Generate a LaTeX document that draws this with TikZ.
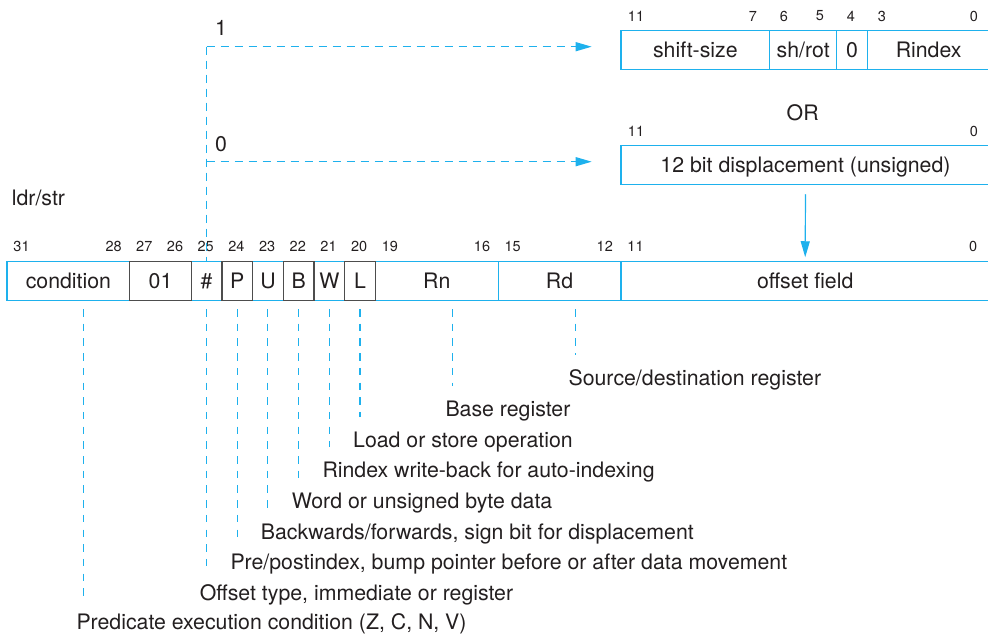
\documentclass[tikz,border=0pt]{standalone}
\usepackage{fontspec}
\setmainfont{TeX Gyre Heros}
\usetikzlibrary{
  arrows.meta,
  positioning
}
\definecolor{ldrCyan}{HTML}{1EB1ED}
\definecolor{ldrDark}{HTML}{4D4D4D}
\definecolor{ldrText}{HTML}{231F20}
\tikzset{
  fld/.style={draw=ldrCyan, line width=1.2pt, minimum height=38.3pt,
    inner sep=0pt, text height=15pt, text depth=0pt, text=ldrText,
    font=\fontsize{21.3}{25}\selectfont},
  darkfld/.style={fld, draw=ldrDark},
  bitno/.style={text=ldrText, inner sep=0pt, font=\fontsize{14.5}{17}\selectfont},
  lbl/.style={text=ldrText, inner sep=0pt, anchor=base west,
    font=\fontsize{21.3}{25}\selectfont},
  sel/.style={ldrCyan, line width=1.2pt, dash pattern=on 8pt off 6pt},
  lead/.style={ldrCyan, line width=1.2pt, dash pattern=on 7.5pt off 7.2pt},
  tip/.style={-{Triangle[length=16pt, width=9pt]}}
}

\begin{document}
\begin{tikzpicture}[x=1pt, y=-1pt]
  \useasboundingbox (0, 0) rectangle (988, 634);

  %% --- Instruction word: one bit cell is 30.7 wide ---
  \foreach \hi/\lo/\txt/\nm in {31/28/condition/cond, 25/25/\#/hash,
      23/23/U/fU, 21/21/W/fW, 19/16/Rn/fRn, 15/12/Rd/fRd,
      11/0/offset field/offs} {
    \node[fld, minimum width={(\hi-\lo+1)*30.7pt}] (\nm)
      at ({7+(31-\hi)*30.7+(\hi-\lo+1)*15.35}, 281) {\txt};
  }
  %% fixed bits, drawn dark on top
  \foreach \hi/\lo/\txt/\nm in {27/26/01/f01, 24/24/P/fP, 22/22/B/fB,
      20/20/L/fL} {
    \node[darkfld, minimum width={(\hi-\lo+1)*30.7pt}] (\nm)
      at ({7+(31-\hi)*30.7+(\hi-\lo+1)*15.35}, 281) {\txt};
  }
  \foreach \b in {31, 28, 27, 26, 25, 24, 23, 22, 21, 20, 19, 16, 15, 12, 11, 0}
    \node[bitno] (n\b) at ({7+(31-\b)*30.7+14.5}, 246) {\b};

  \node[lbl] (ldr) at (11.7, 205) {ldr/str};

  %% --- Register offset (I = 1) ---
  \node[fld, minimum width=148.7pt] (fShift) at (695.35, 50) {shift-size};
  \node[fld, minimum width=67pt] (fShRot) at (803.2, 50) {sh/rot};
  \node[fld, minimum width=30.6pt] (fZero) at (852, 50) {0};
  \node[fld, minimum width=122.7pt] (fRindex) at (928.65, 50) {Rindex};
  \foreach \x/\b in {636/11, 753/7, 784/6, 820/5, 851/4, 882/3, 974/0}
    \node[bitno] (r\b) at (\x, 16) {\b};

  \node[lbl, anchor=base] (or) at (802.7, 120) {OR};

  %% --- Immediate offset (I = 0) ---
  \node[fld, minimum width=369pt] (disp) at (805.5, 165)
    {12 bit displacement (unsigned)};
  \node[bitno] (d11) at (636, 131) {11};
  \node[bitno] (d0) at (974, 131) {0};

  \draw[ldrCyan, line width=1.2pt, tip, shorten <=9.5pt, shorten >=4pt]
    (disp.south) -- (offs.north);

  %% --- Selection by the # bit ---
  \coordinate (selOne) at (591.7, 46.7);
  \coordinate (selZero) at (591.7, 161.7);
  \coordinate (selCorner) at (hash.north |- selOne);
  \draw[sel] (selCorner) -- (hash.north);
  \draw[sel, tip] (selCorner) -- (selOne);
  \draw[sel, tip] (hash.north |- selZero) -- (selZero);
  \node[lbl, anchor=base] (one) at (221, 36) {1};
  \node[lbl, anchor=base] (zero) at (221, 151) {0};

  %% --- Leader lines down to the descriptions ---
  \foreach \x/\yend/\nm in {83.3/600/lCond, 206.7/570/lHash, 237.3/539/lP,
      267.7/509/lU, 298.7/478/lB, 329.3/447/lW, 360/417/lL,
      452.3/386/lRn, 575.4/355/lRd} {
    \coordinate (\nm-t) at (\x, 309);
    \coordinate (\nm-b) at (\x, \yend);
    \draw[lead] (\nm-t) -- (\nm-b);
  }
  \node[lbl] (dRd) at ([xshift=-7pt, yshift=-30.5pt]lRd-b)
    {Source/destination register};
  \node[lbl] (dRn) at ([xshift=-7pt, yshift=-30pt]lRn-b) {Base register};
  \node[lbl] (dL) at ([xshift=-7pt, yshift=-30pt]lL-b)
    {Load or store operation};
  \node[lbl] (dW) at ([xshift=-7pt, yshift=-30pt]lW-b)
    {Rindex write-back for auto-indexing};
  \node[lbl] (dB) at ([xshift=-7pt, yshift=-30pt]lB-b)
    {Word or unsigned byte data};
  \node[lbl] (dU) at ([xshift=-7pt, yshift=-30pt]lU-b)
    {Backwards/forwards, sign bit for displacement};
  \node[lbl] (dP) at ([xshift=-7pt, yshift=-30pt]lP-b)
    {Pre/postindex, bump pointer before or after data movement};
  \node[lbl] (dHash) at ([xshift=-7pt, yshift=-30pt]lHash-b)
    {Offset type, immediate or register};
  \node[lbl] (dCond) at ([xshift=-7pt, yshift=-29.5pt]lCond-b)
    {Predicate execution condition (Z, C, N, V)};
\end{tikzpicture}
\end{document}
